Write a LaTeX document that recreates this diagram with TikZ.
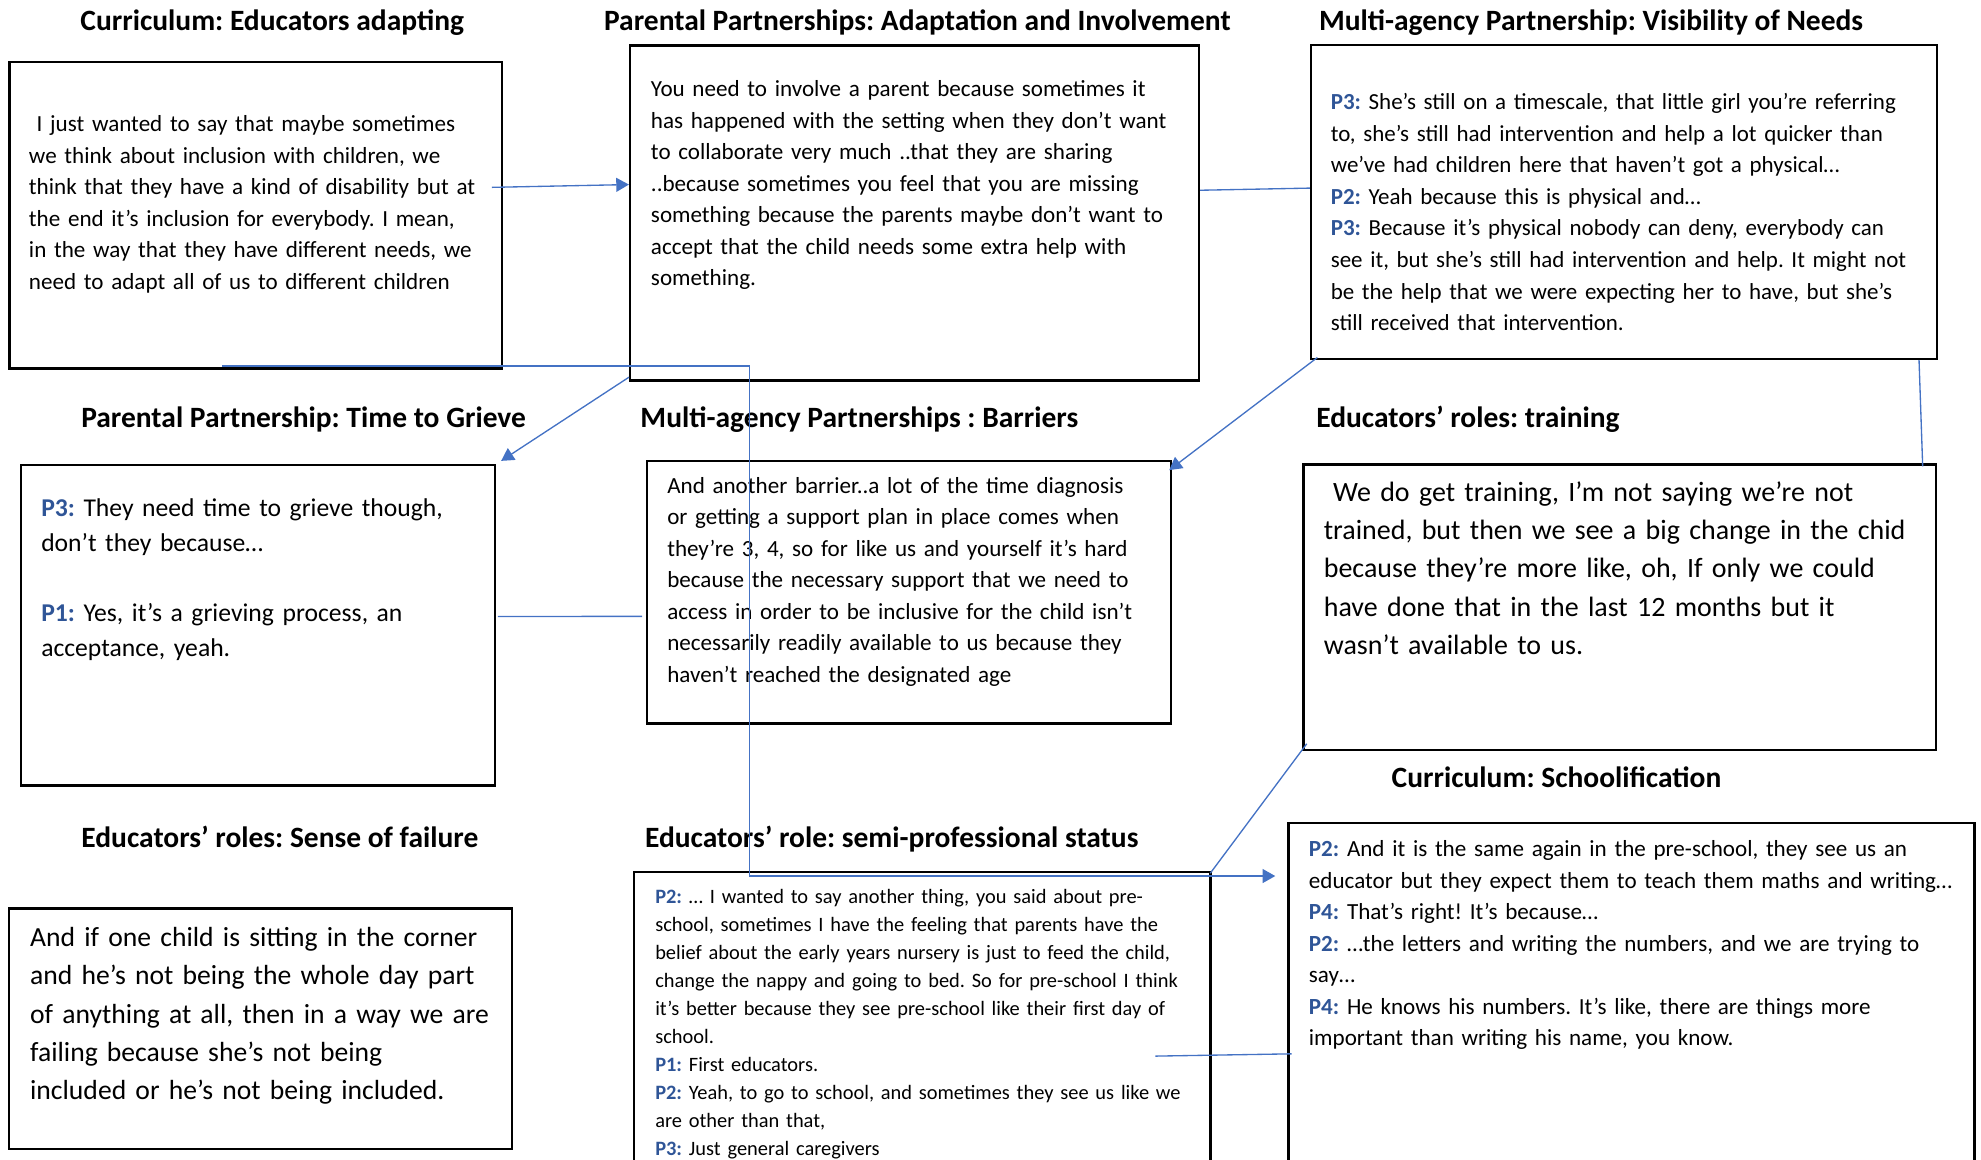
\documentclass[tikz,border=0pt]{standalone}
\usepackage{fontspec}
\setmainfont{Carlito}
\usepackage{xcolor}
\usetikzlibrary{arrows.meta}
\frenchspacing

\definecolor{linkblue}{RGB}{68,114,196}
\definecolor{speaker}{RGB}{47,85,151}
\newcommand{\spk}[1]{\textcolor{speaker}{\textbf{#1}}}

\begin{document}
\begin{tikzpicture}[x=0.02cm, y=-0.02cm,
            box/.style = {draw, line width=1.1pt, anchor=north west, inner sep=0pt},
            heading/.style = {anchor=base west, inner sep=0pt, font=\fontsize{13.28}{15}\selectfont\bfseries},
            quote/.style = {anchor=base west, inner sep=0pt, align=left, text width=12cm},
            link/.style = {draw=linkblue, line width=0.6pt},
            linkarrow/.style = {link, -{Triangle[length=0.2cm, width=0.22cm]}}]
            \useasboundingbox (0,0) rectangle (1568,918);

            % theme boxes
            \node[box, minimum width=7.794cm, minimum height=4.854cm] (adapt) at (6.7,48) {};
            \node[box, minimum width=9.004cm, minimum height=5.302cm] (involve) at (497.8,35.1) {};
            \node[box, minimum width=9.908cm, minimum height=4.966cm] (visible) at (1036.7,34.8) {};
            \node[box, minimum width=7.502cm, minimum height=5.07cm] (grieve) at (15.7,367.3) {};
            \node[box, minimum width=8.298cm, minimum height=4.152cm] (barrier) at (511.2,364.1) {};
            \node[box, minimum width=10.014cm, minimum height=4.522cm] (train) at (1030.8,366.7) {};
            \node[box, minimum width=10.864cm, minimum height=7.312cm] (school) at (1018.9,650.4) {};
            \node[box, minimum width=7.962cm, minimum height=3.804cm] (failure) at (6.3,718.2) {};
            \node[box, minimum width=9.122cm, minimum height=5.832cm] (semipro) at (501,689.2) {};

            % headings
            \node[heading] (t-adapt) at (63.3,23.8) {Curriculum: Educators adapting};
            \node[heading] (t-involve) at (477.8,23.8) {Parental Partnerships: Adaptation and Involvement};
            \node[heading] (t-visible) at (1043.7,23.8) {Multi-agency Partnership: Visibility of Needs};
            \node[heading] (t-grieve) at (64,338.2) {Parental Partnership: Time to Grieve};
            \node[heading] (t-barrier) at (506.6,338.2) {Multi-agency Partnerships : Barriers};
            \node[heading] (t-train) at (1041.5,338.6) {Educators’ roles: training};
            \node[heading] (t-school) at (1101.2,623.2) {Curriculum: Schoolification};
            \node[heading] (t-failure) at (64.1,670.8) {Educators’ roles: Sense of failure};
            \node[heading] (t-semipro) at (510.2,670.8) {Educators’ role: semi-professional status};

            % quotes
            \node[quote, font=\fontsize{10.4}{14.2}\selectfont] (q-adapt) at (22.6,104.2) {\ I just wanted to say that maybe sometimes\\
                we think about inclusion with children, we\\
                think that they have a kind of disability but at\\
                the end it’s inclusion for everybody. I mean,\\
                in the way that they have different needs, we\\
                need to adapt all of us to different children};
            \node[quote, font=\fontsize{10.4}{14.2}\selectfont] (q-involve) at (514.9,76.5) {You need to involve a parent because sometimes it\\
                has happened with the setting when they don’t want\\
                to collaborate very much ..that they are sharing\\
                ..because sometimes you feel that you are missing\\
                something because the parents maybe don’t want to\\
                accept that the child needs some extra help with\\
                something.};
            \node[quote, font=\fontsize{10.35}{14.2}\selectfont] (q-visible) at (1053,87) {\spk{P3:} She’s still on a timescale, that little girl you’re referring\\
                to, she’s still had intervention and help a lot quicker than\\
                we’ve had children here that haven’t got a physical…\\
                \spk{P2:} Yeah because this is physical and…\\
                \spk{P3:} Because it’s physical nobody can deny, everybody can\\
                see it, but she’s still had intervention and help. It might not\\
                be the help that we were expecting her to have, but she’s\\
                still received that intervention.};
            \node[quote, font=\fontsize{11.55}{15.7}\selectfont] (q-grieve) at (32.3,409) {\spk{P3:} They need time to grieve though,\\
                don’t they because…\\[15.7pt]
                \spk{P1:} Yes, it’s a grieving process, an\\
                acceptance, yeah.};
            \node[quote, font=\fontsize{10.4}{14.2}\selectfont] (q-barrier) at (527.8,390.5) {And another barrier..a lot of the time diagnosis\\
                or getting a support plan in place comes when\\
                they’re 3, 4, so for like us and yourself it’s hard\\
                because the necessary support that we need to\\
                access in order to be inclusive for the child isn’t\\
                necessarily readily available to us because they\\
                haven’t reached the designated age};
            \node[quote, font=\fontsize{12.6}{17.2}\selectfont] (q-train) at (1047.5,397) {\ We do get training, I’m not saying we’re not\\
                trained, but then we see a big change in the chid\\
                because they’re more like, oh, If only we could\\
                have done that in the last 12 months but it\\
                wasn’t available to us.};
            \node[quote, font=\fontsize{10.4}{14.2}\selectfont] (q-school) at (1035.7,678) {\spk{P2:} And it is the same again in the pre-school, they see us an\\
                educator but they expect them to teach them maths and writing…\\
                \spk{P4:} That’s right! It’s because…\\
                \spk{P2:} …the letters and writing the numbers, and we are trying to\\
                say…\\
                \spk{P4:} He knows his numbers. It’s like, there are things more\\
                important than writing his name, you know.};
            \node[quote, font=\fontsize{12.45}{17.2}\selectfont] (q-failure) at (23.5,749.3) {And if one child is sitting in the corner\\
                and he’s not being the whole day part\\
                of anything at all, then in a way we are\\
                failing because she’s not being\\
                included or he’s not being included.};
            \node[quote, font=\fontsize{9.2}{12.6}\selectfont] (q-semipro) at (518.3,715) {\spk{P2:} … I wanted to say another thing, you said about pre-\\
                school, sometimes I have the feeling that parents have the\\
                belief about the early years nursery is just to feed the child,\\
                change the nappy and going to bed. So for pre-school I think\\
                it’s better because they see pre-school like their first day of\\
                school.\\
                \spk{P1:} First educators.\\
                \spk{P2:} Yeah, to go to school, and sometimes they see us like we\\
                are other than that,\\
                \spk{P3:} Just general caregivers};

            % links between themes
            \coordinate (elbow) at (593,450);
            \draw[linkarrow] ([xshift=-0.18cm, yshift=0.44cm]adapt.east) -- ([yshift=0.45cm]involve.west);
            \draw[link] ([yshift=0.36cm]involve.east) -- ([yshift=0.22cm]visible.west);
            \draw[linkarrow] ([yshift=0.07cm]involve.south west) -- ([xshift=0.08cm, yshift=0.05cm]grieve.north east);
            \draw[linkarrow] ([xshift=0.12cm, yshift=0.04cm]visible.south west) -- ([xshift=-0.05cm, yshift=-0.16cm]barrier.north east);
            \draw[link] ([xshift=-0.3cm]visible.south east) -- ([xshift=-0.23cm, yshift=-0.05cm]train.north east);
            \draw[link] ([xshift=0.03cm, yshift=0.14cm]grieve.east) -- ([xshift=-0.06cm, yshift=-0.38cm]barrier.west);
            \draw[linkarrow] ([xshift=-0.53cm, yshift=0.06cm]adapt.south) -| (elbow) |- ([xshift=-0.19cm, yshift=-0.86cm]school.north west);
            \draw[link] ([xshift=0.07cm, yshift=0.12cm]train.south west) -- ([xshift=-0.02cm, yshift=-0.04cm]semipro.north east);
            \draw[link] ([xshift=-0.89cm]semipro.east) -- ([xshift=0.07cm]school.west);
\end{tikzpicture}
\end{document}
